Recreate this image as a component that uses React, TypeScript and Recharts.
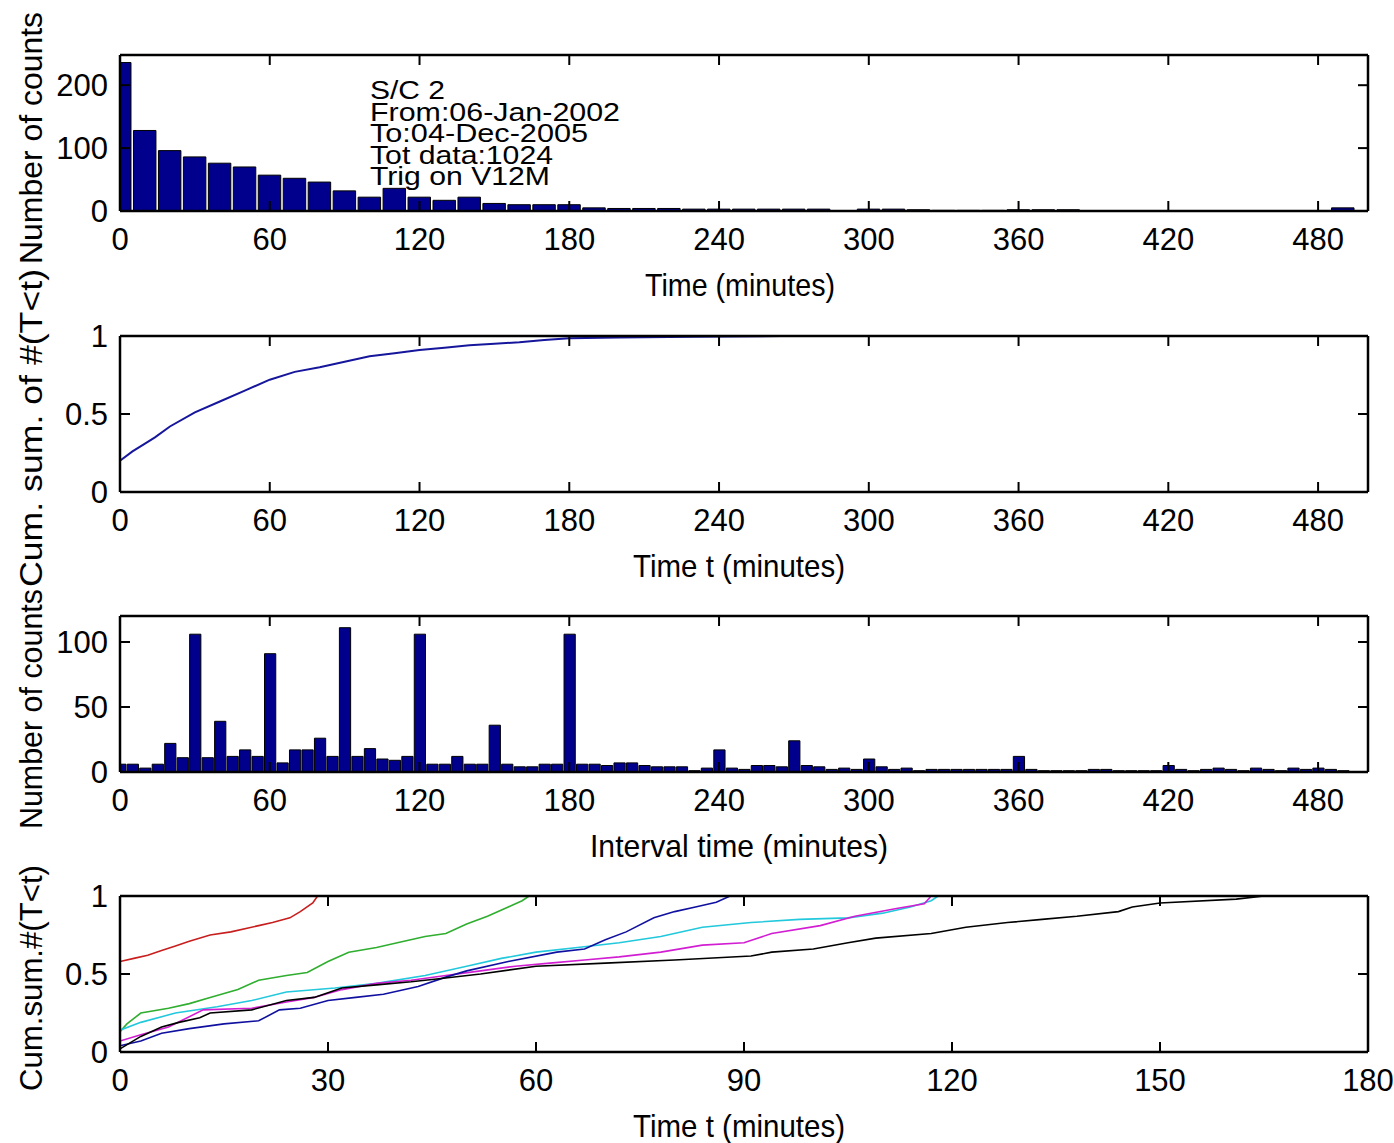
import React from 'react';
import { BarChart, Bar, LineChart, Line, XAxis, YAxis } from 'recharts';

const FONT = "'Liberation Sans Narrow', 'Liberation Sans', Arial, sans-serif";

// plot box geometry (shared by all four panels)
const PLOT_LEFT = 120;
const PLOT_W = 1248;
const PLOT_H = 156;
const CHART_W = 1394;

// panel 1: histogram of event times, 10 minute bins
const countBinWidth = 10;
const timeCounts = [
  236, 128, 96, 86, 76, 70, 57, 52, 46, 32,
  22, 36, 22, 17, 22, 12, 10, 10, 10, 5,
  4, 4, 4, 3, 3, 3, 3, 3, 3, 0,
  3, 3, 2, 1, 1, 1, 2, 2, 2, 0,
  0, 0, 0, 0, 0, 0, 0, 0, 0, 5,
];

// panel 2: cumulative fraction
const cumTimes = [0, 5, 10, 14, 20, 30, 40, 50, 60, 70, 80, 90, 100, 110, 120, 130, 140, 150, 160, 170, 180, 200, 230, 265];
const cumFractions = [0.2, 0.26, 0.31, 0.35, 0.42, 0.51, 0.58, 0.65, 0.72, 0.77, 0.8, 0.835, 0.87, 0.89, 0.91, 0.925, 0.94, 0.95, 0.96, 0.975, 0.985, 0.99, 0.995, 1];

// panel 3: histogram of interval times, 5 minute bins
const intervalBinWidth = 5;
const intervalCounts = [
  6, 6, 3, 6, 22, 11, 106, 11, 39, 12,
  17, 12, 91, 7, 17, 17, 26, 12, 111, 12,
  18, 10, 9, 12, 106, 6, 6, 12, 6, 6,
  36, 6, 4, 4, 6, 6, 106, 6, 6, 5,
  7, 7, 5, 4, 4, 4, 1, 3, 17, 3,
  2, 5, 5, 4, 24, 5, 4, 2, 3, 2,
  10, 4, 2, 3, 1, 2, 2, 2, 2, 2,
  2, 2, 12, 2, 1, 1, 1, 1, 2, 2,
  1, 1, 1, 1, 5, 2, 1, 2, 3, 2,
  1, 3, 2, 1, 3, 2, 3, 2, 1, 0,
];

// panel 4: cumulative curves per subset
const redTimes = [0, 2, 4, 6, 8, 10, 13, 16, 20, 22, 24.5, 26, 27.8, 28.5];
const redFractions = [0.58, 0.6, 0.62, 0.65, 0.68, 0.71, 0.75, 0.77, 0.81, 0.83, 0.86, 0.9, 0.955, 1];
const greenTimes = [0, 1, 3, 7, 10, 13, 17, 20, 24, 27, 30, 33, 37, 40, 44, 47, 50, 53, 56, 58, 59];
const greenFractions = [0.13, 0.18, 0.25, 0.28, 0.31, 0.35, 0.4, 0.46, 0.49, 0.51, 0.58, 0.64, 0.67, 0.7, 0.74, 0.76, 0.82, 0.87, 0.93, 0.97, 1];
const blueTimes = [0, 3, 6, 10, 15, 20, 23, 26, 30, 34, 38, 43, 47, 50, 56, 63, 67, 70, 73, 77, 80, 83, 86, 88];
const blueFractions = [0.04, 0.07, 0.12, 0.15, 0.18, 0.2, 0.27, 0.28, 0.33, 0.35, 0.37, 0.42, 0.48, 0.52, 0.58, 0.64, 0.66, 0.72, 0.77, 0.86, 0.9, 0.93, 0.96, 1];
const cyanTimes = [0, 3, 8, 14, 19, 24, 31, 37, 44, 50, 55, 60, 66, 72, 78, 84, 91, 98, 105, 110, 114, 117, 118, 120];
const cyanFractions = [0.14, 0.19, 0.25, 0.29, 0.33, 0.385, 0.41, 0.44, 0.49, 0.55, 0.6, 0.64, 0.67, 0.7, 0.74, 0.8, 0.83, 0.85, 0.86, 0.89, 0.93, 0.97, 1, 1];
const magentaTimes = [0, 3, 7, 12, 19, 24, 28, 32, 37, 42, 47, 52, 57, 62, 67, 72, 78, 84, 90, 94, 101, 106, 112, 116, 117, 148];
const magentaFractions = [0.07, 0.11, 0.16, 0.27, 0.28, 0.32, 0.35, 0.4, 0.44, 0.46, 0.49, 0.52, 0.55, 0.57, 0.59, 0.61, 0.64, 0.685, 0.7, 0.76, 0.81, 0.87, 0.92, 0.95, 1, 1];
const blackTimes = [0, 3, 6, 8.5, 11.5, 13, 19, 24, 28, 32, 37, 42, 46, 52, 60, 70, 80, 91, 94, 100, 105, 109, 117, 122, 128, 133, 138, 144, 146, 150, 161, 165];
const blackFractions = [0.02, 0.1, 0.16, 0.19, 0.22, 0.25, 0.27, 0.33, 0.35, 0.41, 0.43, 0.45, 0.47, 0.5, 0.55, 0.57, 0.59, 0.615, 0.64, 0.66, 0.7, 0.73, 0.76, 0.8, 0.83, 0.85, 0.87, 0.9, 0.93, 0.955, 0.98, 1];

const minuteTicks = [0, 60, 120, 180, 240, 300, 360, 420, 480];
const shortTicks = [0, 30, 60, 90, 120, 150, 180];
const countTicksTop = [0, 100, 200];
const countTicksInterval = [0, 50, 100];
const fractionTicks = [0, 0.5, 1];

const toPoints = (ts: number[], vs: number[]) => ts.map((t, i) => ({ t, v: vs[i] }));

const countsData = timeCounts.map((n, i) => ({ t: i * countBinWidth, n }));
const intervalData = intervalCounts.map((n, i) => ({ t: i * intervalBinWidth, n }));
const cumData = toPoints(cumTimes, cumFractions);

const curves = [
  { name: 'red', color: '#c81e1e', data: toPoints(redTimes, redFractions) },
  { name: 'green', color: '#2fae2f', data: toPoints(greenTimes, greenFractions) },
  { name: 'cyan', color: '#22c8dc', data: toPoints(cyanTimes, cyanFractions) },
  { name: 'magenta', color: '#d21ed2', data: toPoints(magentaTimes, magentaFractions) },
  { name: 'blue', color: '#1010a0', data: toPoints(blueTimes, blueFractions) },
  { name: 'black', color: '#000000', data: toPoints(blackTimes, blackFractions) },
];

const tickStyle = { fontSize: 31, fontFamily: FONT, fill: '#000' };
const frameLine = { stroke: '#000', strokeWidth: 2.5 };
const tickLineStyle = { stroke: '#000', strokeWidth: 2 };
// top axis takes 1px, right axis takes 1px
const margin = { top: 19, right: CHART_W - PLOT_LEFT - PLOT_W - 1, bottom: 0, left: 40 };

// label-less tick for the mirrored frame sides
const NoLabel = () => <g />;

// four-sided box with inward ticks
function frameAxes(xTicks: number[], xMax: number, yTicks: number[], yMax: number) {
  return [
    <XAxis key="xb" xAxisId={0} type="number" dataKey="t" domain={[0, xMax]} ticks={xTicks} interval={0}
      allowDataOverflow height={50} tickSize={-10} tickMargin={27} tick={tickStyle}
      axisLine={frameLine} tickLine={tickLineStyle} />,
    <XAxis key="xt" xAxisId="top" orientation="top" type="number" dataKey="t" domain={[0, xMax]} ticks={xTicks}
      allowDataOverflow interval={0} height={1} tickSize={-10} tick={NoLabel} axisLine={frameLine} tickLine={tickLineStyle} />,
    <YAxis key="yl" yAxisId={0} type="number" domain={[0, yMax]} ticks={yTicks} interval={0}
      allowDataOverflow width={80} tickSize={-10} tickMargin={22} tick={tickStyle}
      axisLine={frameLine} tickLine={tickLineStyle} />,
    <YAxis key="yr" yAxisId="right" orientation="right" type="number" domain={[0, yMax]} ticks={yTicks}
      allowDataOverflow interval={0} width={1} tickSize={-10} tick={NoLabel} axisLine={frameLine} tickLine={tickLineStyle} />,
  ];
}

const chartHeight = 20 + PLOT_H + 50;

const App: React.FC = () => {
  const countBar = (countBinWidth * PLOT_W) / 500;
  const intervalBar = (intervalBinWidth * PLOT_W) / 500;

  return (
    <div style={{ position: 'absolute', left: 0, top: 0, width: CHART_W, height: 1143, background: '#fff', fontFamily: FONT }}>
      {/* Panel 1: counts vs time */}
      <div style={{ position: 'absolute', left: 0, top: 35 }}>
        <BarChart width={CHART_W} height={chartHeight} data={countsData} margin={margin} barCategoryGap={0} barGap={0}>
          {frameAxes(minuteTicks, 500, countTicksTop, 248)}
          <Bar dataKey="n" fill="#00008c" stroke="#000" strokeWidth={1} barSize={countBar} isAnimationActive={false} />
          {/* invisible twin so the top/right frame axes get their ticks */}
          <Bar xAxisId="top" yAxisId="right" dataKey="n" fill="none" stroke="none" barSize={countBar} isAnimationActive={false} />
        </BarChart>
      </div>

      {/* Panel 2: cumulative sum */}
      <div style={{ position: 'absolute', left: 0, top: 316 }}>
        <LineChart width={CHART_W} height={chartHeight} data={cumData} margin={margin}>
          {frameAxes(minuteTicks, 500, fractionTicks, 1)}
          <Line type="linear" dataKey="v" stroke="#16169c" strokeWidth={2} dot={false} isAnimationActive={false} />
          <Line xAxisId="top" yAxisId="right" type="linear" dataKey="v" stroke="none" dot={false} activeDot={false} isAnimationActive={false} />
        </LineChart>
      </div>

      {/* Panel 3: interval histogram */}
      <div style={{ position: 'absolute', left: 0, top: 596 }}>
        <BarChart width={CHART_W} height={chartHeight} data={intervalData} margin={margin} barCategoryGap={0} barGap={0}>
          {frameAxes(minuteTicks, 500, countTicksInterval, 120)}
          <Bar dataKey="n" fill="#00008c" stroke="#000" strokeWidth={1} barSize={intervalBar} isAnimationActive={false} />
          <Bar xAxisId="top" yAxisId="right" dataKey="n" fill="none" stroke="none" barSize={intervalBar} isAnimationActive={false} />
        </BarChart>
      </div>

      {/* Panel 4: cumulative curves */}
      <div style={{ position: 'absolute', left: 0, top: 876 }}>
        <LineChart width={CHART_W} height={chartHeight} margin={margin}>
          {frameAxes(shortTicks, 180, fractionTicks, 1)}
          {curves.map(c => (
            <Line key={c.name} data={c.data} type="linear" dataKey="v" stroke={c.color} strokeWidth={1.6}
              dot={false} isAnimationActive={false} />
          ))}
          <Line xAxisId="top" yAxisId="right" data={curves[5].data} type="linear" dataKey="v" stroke="none"
            dot={false} activeDot={false} isAnimationActive={false} />
        </LineChart>
      </div>

      {/* axis titles and annotation */}
      <svg width={CHART_W} height={1143} style={{ position: 'absolute', left: 0, top: 0, pointerEvents: 'none' }}
        fontFamily={FONT} fontSize={32} fill="#000">
        <text transform="translate(42,138) rotate(-90)" textAnchor="middle" textLength={252} lengthAdjust="spacingAndGlyphs">Number of counts</text>
        <text transform="translate(42,428) rotate(-90)" textAnchor="middle" textLength={318} lengthAdjust="spacingAndGlyphs">Cum. sum. of #(T&lt;t)</text>
        <text transform="translate(42,709) rotate(-90)" textAnchor="middle" textLength={240} lengthAdjust="spacingAndGlyphs">Number of counts</text>
        <text transform="translate(42,978) rotate(-90)" textAnchor="middle" textLength={226} lengthAdjust="spacingAndGlyphs">Cum.sum.#(T&lt;t)</text>

        <text x={740} y={296} textAnchor="middle" textLength={190} lengthAdjust="spacingAndGlyphs">Time (minutes)</text>
        <text x={739} y={577} textAnchor="middle" textLength={212} lengthAdjust="spacingAndGlyphs">Time t (minutes)</text>
        <text x={739} y={857} textAnchor="middle" textLength={298} lengthAdjust="spacingAndGlyphs">Interval time (minutes)</text>
        <text x={739} y={1137} textAnchor="middle" textLength={212} lengthAdjust="spacingAndGlyphs">Time t (minutes)</text>

        <g fontSize={26}>
          <text x={370} y={99} textLength={75} lengthAdjust="spacingAndGlyphs">S/C 2</text>
          <text x={370} y={121} textLength={250} lengthAdjust="spacingAndGlyphs">From:06-Jan-2002</text>
          <text x={370} y={142} textLength={218} lengthAdjust="spacingAndGlyphs">To:04-Dec-2005</text>
          <text x={370} y={163.5} textLength={183} lengthAdjust="spacingAndGlyphs">Tot data:1024</text>
          <text x={370} y={185} textLength={180} lengthAdjust="spacingAndGlyphs">Trig on V12M</text>
        </g>
      </svg>
    </div>
  );
};

export default App;
